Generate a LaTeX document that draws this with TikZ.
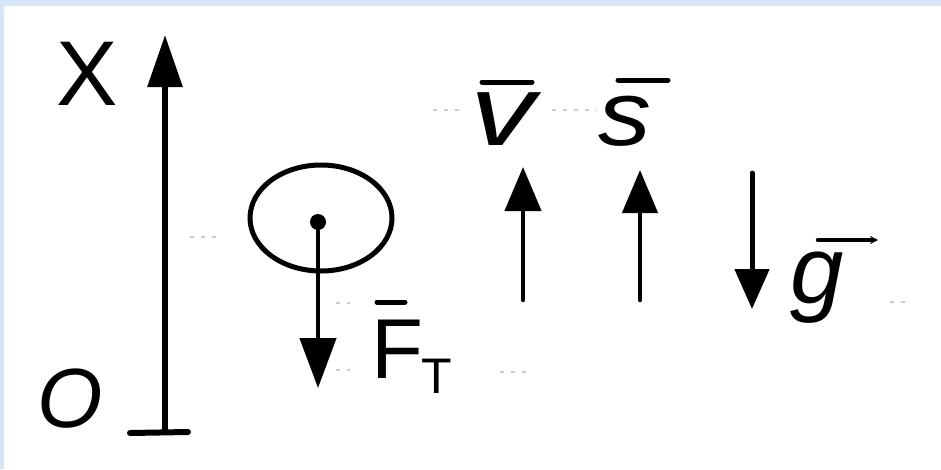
\documentclass[tikz,border=0pt]{standalone}
\usepackage{fontspec}
\newfontfamily\hand{Liberation Sans}
\usetikzlibrary{arrows.meta,shapes.geometric}
\definecolor{bgblue}{RGB}{214,230,246}
\tikzset{
  vecline/.style={line width=4.5pt, line cap=round},
  bar/.style={line width=5pt, line cap=round},
  faint/.style={gray!40, line width=1.5pt, dash pattern=on 4pt off 7pt},
  lbl/.style={inner sep=0pt, anchor=base},
}
\begin{document}
\begin{tikzpicture}[x=1pt,y=-1pt]
\useasboundingbox (0,0) rectangle (941,469);
\fill[bgblue] (0,0) rectangle (941,469);
\fill[white] (4,6) rectangle (941,469);

% faint guide dots
\draw[faint] (433,110) -- (460,110);
\draw[faint] (552,110) -- (597,110);
\draw[faint] (190,237) -- (218,237);
\draw[faint] (336,303) -- (350,303);
\draw[faint] (336,370) -- (350,370);
\draw[faint] (500,372) -- (530,372);
\draw[faint] (890,302) -- (912,302);

% axis
\coordinate (axbot) at (165,433);
\coordinate (axtop) at (165,35);
\coordinate (tickL) at (130,433);
\coordinate (tickR) at (188,432);
\draw[line width=6pt, -{Triangle[length=52pt,width=34pt]}] (axbot) -- (axtop);
\draw[line width=6pt, line cap=round] (tickL) -- (tickR);
\node[lbl, font=\hand\fontsize{92}{92}\selectfont] (xl) at (87,105) {X};
\node[lbl, font=\hand\itshape\fontsize{84}{84}\selectfont] (ol) at (70,427) {O};

% ball
\node[draw, ellipse, line width=5pt, minimum width=142pt, minimum height=106pt] (ball) at (321,218) {};
\node[circle, fill, inner sep=0pt, minimum size=16pt] (dot) at (318,222) {};
\coordinate (ftip) at (318,388);
\draw[vecline, -{Triangle[length=50pt,width=36pt]}] (dot.center) -- (ftip);
\node[lbl, font=\hand\fontsize{85}{85}\selectfont] (fl) at (397,378) {F};
\node[lbl, font=\hand\fontsize{50}{50}\selectfont] (tl) at (437,393) {T};
\draw[bar] (377,302) -- (405,302);

% v
\coordinate (vbot) at (523,300);
\coordinate (vtop) at (523,167);
\draw[vecline, -{Triangle[length=44pt,width=36pt]}] (vbot) -- (vtop);
\node[lbl, font=\hand\itshape\fontsize{100}{100}\selectfont, xscale=1.3] (vl) at (503,145) {v};
\draw[bar] (482,82) -- (532,82);

% s
\coordinate (sbot) at (640,300);
\coordinate (stop) at (640,170);
\draw[vecline, -{Triangle[length=43pt,width=35pt]}] (sbot) -- (stop);
\node[lbl, font=\hand\itshape\fontsize{92}{92}\selectfont, xscale=1.15] (sl) at (625,145) {s};
\draw[bar] (618,80) -- (668,80);

% g
\coordinate (gtop) at (752,173);
\coordinate (gtip) at (752,309);
\draw[line width=5pt, line cap=round, -{Triangle[length=40pt,width=34pt]}] (gtop) -- (gtip);
\node[lbl, font=\hand\itshape\fontsize{96}{96}\selectfont] (gl) at (817,303) {g};
\draw[line width=4.5pt, line cap=round, -{Stealth[length=8pt,width=8pt]}] (818,240) -- (878,240);
\end{tikzpicture}
\end{document}
